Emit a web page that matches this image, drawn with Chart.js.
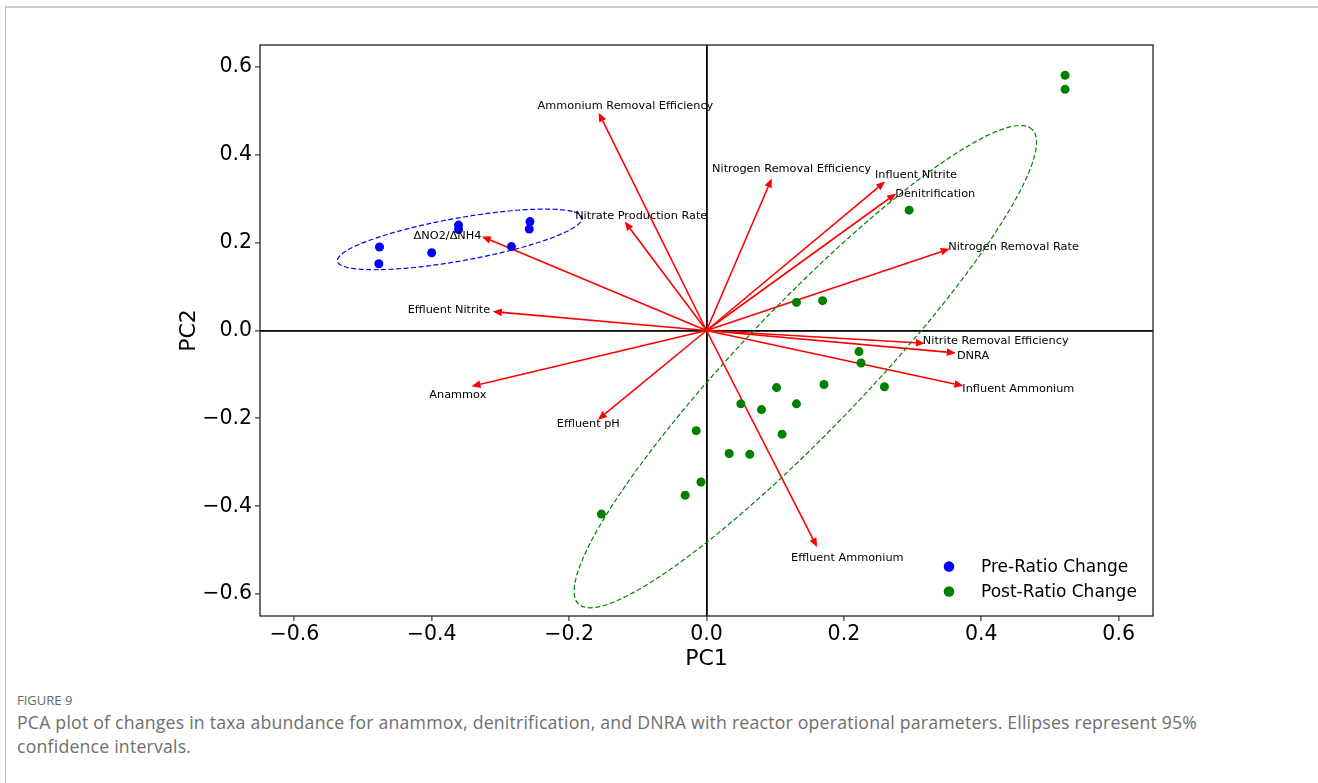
<!DOCTYPE html>
<html><head><meta charset="utf-8">
<script src="https://cdn.jsdelivr.net/npm/chart.js@4.4.1/dist/chart.umd.min.js"></script>
<style>
html,body{margin:0;padding:0;background:#fff;width:1318px;height:783px;overflow:hidden;}
#frame{position:absolute;left:5px;top:6px;width:1400px;height:900px;border-top:2px solid #cfcfcf;border-left:1px solid #bdbdbd;}
#wrap{position:absolute;left:0;top:0;width:1318px;height:690px;}
#fig{position:absolute;left:17px;top:691px;font-family:'Open Sans';font-size:13px;color:#666;line-height:18px;}
#cap{position:absolute;left:17px;top:710px;width:1290px;font-family:'Open Sans';font-size:17.7px;letter-spacing:0.2px;line-height:24px;color:#6e6e6e;white-space:nowrap;}
</style></head>
<body>
<div id="frame"></div>
<div id="wrap"><canvas id="c" width="1318" height="690"></canvas></div>
<div id="fig">FIGURE 9</div>
<div id="cap">PCA plot of changes in taxa abundance for anammox, denitrification, and DNRA with reactor operational parameters. Ellipses represent 95%<br>confidence intervals.</div>
<script>
// ---- data ----
const seriesNames = ['Pre-Ratio Change', 'Post-Ratio Change'];
const preX = [-0.476, -0.477, -0.400, -0.361, -0.361, -0.284, -0.257, -0.258];
const preY = [0.190, 0.152, 0.177, 0.240, 0.230, 0.191, 0.248, 0.231];
const postX = [0.522, 0.522, 0.295, 0.131, 0.169, 0.222, 0.225, 0.102, 0.171, 0.259, 0.050, 0.080, 0.131, -0.015, 0.110, 0.033, 0.063, -0.008, -0.031, -0.153];
const postY = [0.581, 0.549, 0.274, 0.064, 0.068, -0.048, -0.074, -0.130, -0.123, -0.128, -0.167, -0.180, -0.167, -0.228, -0.236, -0.280, -0.282, -0.345, -0.375, -0.418];
const loadingNames = ['Ammonium Removal Efficiency', 'Nitrate Production Rate', 'Nitrogen Removal Efficiency', 'Influent Nitrite', 'Denitrification', 'Nitrogen Removal Rate', 'Nitrite Removal Efficiency', 'DNRA', 'Influent Ammonium', 'Effluent Ammonium', 'Effluent pH', 'Anammox', 'Effluent Nitrite', 'ΔNO2/ΔNH4'];
const loadingPC1 = [-0.157, -0.119, 0.095, 0.260, 0.276, 0.354, 0.318, 0.363, 0.374, 0.161, -0.158, -0.342, -0.311, -0.327];
const loadingPC2 = [0.496, 0.248, 0.346, 0.339, 0.312, 0.186, -0.029, -0.051, -0.126, -0.493, -0.203, -0.127, 0.043, 0.214];
const labelPC1 = [-0.118, -0.095, 0.124, 0.305, 0.333, 0.447, 0.421, 0.388, 0.454, 0.205, -0.172, -0.362, -0.375, -0.377];
const labelPC2 = [0.512, 0.261, 0.368, 0.354, 0.310, 0.189, -0.024, -0.058, -0.133, -0.519, -0.214, -0.146, 0.047, 0.215];
const tickValues = [-0.6, -0.4, -0.2, 0.0, 0.2, 0.4, 0.6];
const axisMin = -0.65, axisMax = 0.65;
const nStd = 2;

// ---- confidence ellipse (matplotlib recipe) ----
function confidenceEllipse(xs, ys, k) {
  const n = xs.length;
  const mx = xs.reduce((a, b) => a + b, 0) / n, my = ys.reduce((a, b) => a + b, 0) / n;
  let cxx = 0, cyy = 0, cxy = 0;
  for (let i = 0; i < n; i++) { const dx = xs[i] - mx, dy = ys[i] - my; cxx += dx * dx; cyy += dy * dy; cxy += dx * dy; }
  cxx /= (n - 1); cyy /= (n - 1); cxy /= (n - 1);
  const p = cxy / Math.sqrt(cxx * cyy);
  const rx = Math.sqrt(1 + p), ry = Math.sqrt(1 - p);
  const sx = Math.sqrt(cxx) * k, sy = Math.sqrt(cyy) * k;
  const pts = [];
  for (let j = 0; j <= 240; j++) {
    const t = j / 240 * 2 * Math.PI;
    const ex = rx * Math.cos(t), ey = ry * Math.sin(t);
    const X = (ex - ey) / Math.SQRT2, Y = (ex + ey) / Math.SQRT2;
    pts.push({x: X * sx + mx, y: Y * sy + my});
  }
  return pts;
}
const toPts = (xs, ys) => xs.map((v, i) => ({x: v, y: ys[i]}));
const colors = ['#0000ff', '#008000'];
const FONT = '"DejaVu Sans", sans-serif';

const loadingsPlugin = {
  id: 'loadings',
  beforeDatasetsDraw(chart) {
    const {ctx, scales: {x, y}} = chart;
    const ox = x.getPixelForValue(0), oy = y.getPixelForValue(0);
    ctx.save();
    ctx.strokeStyle = '#ff0000'; ctx.fillStyle = '#ff0000'; ctx.lineWidth = 1.6;
    loadingPC1.forEach((v, i) => {
      const tx = x.getPixelForValue(v), ty = y.getPixelForValue(loadingPC2[i]);
      const a = Math.atan2(ty - oy, tx - ox);
      const hl = 9, hw = 3.8;
      const bx = tx - hl * Math.cos(a), by = ty - hl * Math.sin(a);
      ctx.beginPath(); ctx.moveTo(ox, oy); ctx.lineTo(bx, by); ctx.stroke();
      ctx.beginPath(); ctx.moveTo(tx, ty);
      ctx.lineTo(bx + hw * Math.sin(a), by - hw * Math.cos(a));
      ctx.lineTo(bx - hw * Math.sin(a), by + hw * Math.cos(a));
      ctx.closePath(); ctx.fill();
    });
    ctx.restore();
  },
  afterDatasetsDraw(chart) {
    const {ctx, scales: {x, y}, chartArea: ca} = chart;
    ctx.save();
    ctx.font = '11.3px ' + FONT; ctx.fillStyle = '#000'; ctx.textAlign = 'center'; ctx.textBaseline = 'middle';
    loadingNames.forEach((nm, i) => ctx.fillText(nm, x.getPixelForValue(labelPC1[i]), y.getPixelForValue(labelPC2[i])));
    // frame
    ctx.strokeStyle = '#222'; ctx.lineWidth = 1.3;
    ctx.strokeRect(ca.left, ca.top, ca.right - ca.left, ca.bottom - ca.top);
    // legend (inside lower right)
    ctx.font = '17px ' + FONT; ctx.textAlign = 'left';
    seriesNames.forEach((nm, i) => {
      const cy = ca.bottom - 49.5 + i * 25, cx = ca.right - 204;
      ctx.fillStyle = colors[i];
      ctx.beginPath(); ctx.arc(cx, cy, 5.3, 0, 2 * Math.PI); ctx.fill();
      ctx.fillStyle = '#000';
      ctx.fillText(nm, cx + 32, cy + 1);
    });
    ctx.restore();
  }
};

function axis(title, isX) {
  return {
    type: 'linear', min: axisMin, max: axisMax,
    afterBuildTicks: s => { s.ticks = tickValues.map(v => ({value: v})); },
    afterFit: s => { if (isX) s.height = 60; else s.width = 100; },
    ticks: {
      color: '#000', font: {family: 'DejaVu Sans', size: 20.5}, padding: isX ? 1 : 3,
      callback: v => (v < 0 ? '\u2212' : '') + Math.abs(v).toFixed(1)
    },
    grid: {
      drawOnChartArea: true, drawTicks: true, tickLength: 5, tickWidth: 1.1, tickColor: '#222',
      color: c => (c.tick && Math.abs(c.tick.value) < 1e-9) ? '#000' : 'rgba(0,0,0,0)',
      lineWidth: 1.8
    },
    border: {display: false},
    title: {display: true, text: title, color: '#000', font: {family: 'DejaVu Sans', size: 22},
      padding: isX ? {top: 0, bottom: 4} : {top: 16, bottom: 0}}
  };
}

new Chart(document.getElementById('c'), {
  type: 'scatter',
  data: {
    datasets: [
      {label: seriesNames[0], data: toPts(preX, preY), backgroundColor: colors[0], borderColor: colors[0], pointRadius: 4.5, pointHoverRadius: 4.5, borderWidth: 0},
      {label: seriesNames[1], data: toPts(postX, postY), backgroundColor: colors[1], borderColor: colors[1], pointRadius: 4.5, pointHoverRadius: 4.5, borderWidth: 0},
      {label: 'ellipse-pre', data: confidenceEllipse(preX, preY, nStd), showLine: true, pointRadius: 0, borderColor: colors[0], borderWidth: 1.2, borderDash: [5, 2.5], fill: false},
      {label: 'ellipse-post', data: confidenceEllipse(postX, postY, nStd), showLine: true, pointRadius: 0, borderColor: colors[1], borderWidth: 1.2, borderDash: [5, 2.5], fill: false}
    ]
  },
  options: {
    responsive: false, animation: false, devicePixelRatio: 1,
    layout: {padding: {left: 160, top: 45, right: 165, bottom: 14}},
    plugins: {legend: {display: false}, tooltip: {enabled: false}},
    scales: {x: axis('PC1', true), y: axis('PC2', false)}
  },
  plugins: [loadingsPlugin]
});
</script>
</body></html>
